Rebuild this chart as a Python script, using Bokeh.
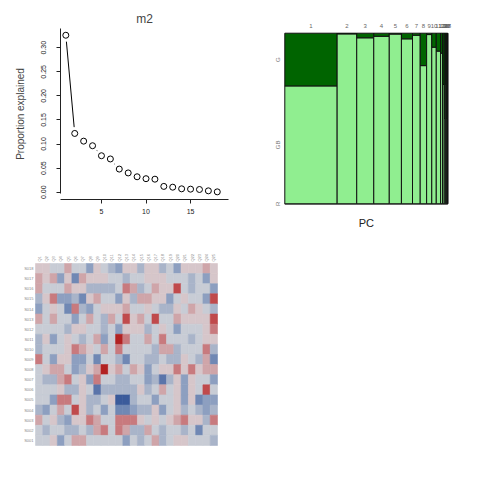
import numpy as np
from bokeh.plotting import figure
from bokeh.models import Range1d, FixedTicker, NumeralTickFormatter, LinearColorMapper, ColumnDataSource
from bokeh.layouts import column, row
from bokeh.embed import file_html
from bokeh.resources import INLINE
from bokeh.transform import transform
from bokeh.core.properties import value

FONT = "Liberation Sans"

# ---------------- data ----------------
pc = list(range(1, 19))
prop_explained = [0.326, 0.122, 0.106, 0.0965, 0.0757, 0.069, 0.048, 0.040, 0.032,
                  0.028, 0.027, 0.012, 0.0104, 0.007, 0.0063, 0.0056, 0.0028, 0.0007]
y_ticks = [0.0, 0.05, 0.10, 0.15, 0.20, 0.25, 0.30]
x_ticks = [5, 10, 15]

mosaic_levels = ["G", "GB", "R"]
frac_G = [0.309, 0.004, 0.027, 0.018, 0.005, 0.033, 0.012, 0.19, 0.008,
          0.082, 0.105, 0.117, 0.3, 0.5, 0.3, 0.5, 0.5, 0.5]
frac_R = [0.0] * 18

heat_rows = ["S%03d" % n for n in range(18, 0, -1)]
heat_cols = ["Q%d" % (j + 1) for j in range(25)]
heat_values = [
    [.12,.12,0,0,.3,0,0,-.45,.12,0,-.25,-.45,.12,.12,-.25,.12,.12,-.25,0,-.45,.12,.12,.12,.3,.12],
    [.3,.12,.3,-.45,.12,-.6,.3,.12,.12,.12,0,0,-.25,0,0,.12,.12,.12,0,0,0,-.25,0,-.45,.12],
    [.3,0,0,0,.3,.12,.12,-.25,-.25,-.25,-.25,0,.5,.3,-.25,0,.3,.12,.12,.7,0,-.25,0,0,-.45],
    [-.25,.12,.5,-.45,-.45,-.25,-.6,.12,.3,0,0,-.45,.12,-.25,.3,.3,.12,.12,-.45,0,.12,0,0,-.45,.7],
    [-.45,0,.12,0,-.6,.5,-.25,-.45,0,.12,.12,.12,.3,0,0,.12,0,-.25,-.25,.12,0,.3,.12,0,-.25],
    [.3,0,.3,0,0,-.45,0,.3,0,-.25,.3,0,.7,.12,.3,0,.7,0,0,.3,.12,.12,.12,.12,.7],
    [0,0,0,0,-.25,.12,.12,0,0,-.25,0,-.45,.12,.12,.12,-.25,0,.12,0,-.45,0,0,0,.12,.5],
    [-.25,.12,-.45,0,.12,0,-.25,0,.3,-.45,0,.9,.5,0,0,.3,0,.5,0,0,0,-.25,0,.12,.12],
    [-.25,0,0,0,.12,.5,.3,.12,0,.3,0,.5,0,0,0,0,-.25,.3,.3,-.25,0,0,0,.5,-.25],
    [.5,0,-.45,.12,.12,-.45,-.45,0,-.6,0,0,-.25,-.6,0,0,-.25,-.25,0,-.25,-.25,.12,0,-.25,.3,-.6],
    [0,.12,.3,.3,0,-.45,-.25,.12,.3,.9,.12,.3,0,.3,.12,-.45,0,.12,.12,.5,.12,.5,.12,.3,.3],
    [0,-.25,-.25,.3,.5,0,.12,-.45,.5,0,0,-.25,-.25,0,0,-.45,-.25,-.75,-.25,.12,-.45,.12,0,0,-.45],
    [0,0,0,.12,-.25,-.25,.12,0,-.75,-.25,-.25,-.25,-.25,-.25,.12,-.25,0,.3,0,.12,-.45,.12,0,.7,0],
    [0,0,-.45,.5,.5,0,.12,-.25,-.25,0,.12,-.9,-.9,-.25,0,0,-.45,0,0,.12,-.45,.12,-.6,-.45,-.45],
    [-.25,-.45,0,.3,0,.7,.12,-.25,0,-.45,0,-.6,-.6,-.45,-.25,-.25,.12,-.45,0,.12,-.25,0,-.25,-.45,-.25],
    [.3,0,.12,-.25,-.45,.12,.12,.5,.3,0,0,.5,.5,.5,.12,0,.12,0,.12,.3,.5,.12,.12,-.25,.5],
    [0,-.25,0,0,-.25,-.25,0,-.25,.3,.5,0,.5,.3,-.25,-.25,.3,0,-.25,0,0,-.25,0,-.6,0,0],
    [0,0,.12,-.45,0,.3,.3,0,0,0,0,0,-.45,0,-.25,0,.3,-.25,0,.12,.12,0,0,0,-.25],
]

# ---------------- panel 1: scree ----------------
p1 = figure(width=240, height=240, output_backend="svg", toolbar_location=None,
            x_range=Range1d(0.402, 19.26), y_range=Range1d(-0.0152, 0.340),
            min_border_left=60, min_border_right=12, min_border_top=28, min_border_bottom=41)
p1.frame_align = False
p1.outline_line_color = None
p1.xgrid.visible = False
p1.ygrid.visible = False
p1.title.text = "m2"
p1.title.align = "center"
p1.title.text_font = FONT
p1.title.text_font_size = "12px"
p1.title.text_font_style = "normal"
p1.title.standoff = 5

p1.xaxis.ticker = FixedTicker(ticks=x_ticks)
p1.yaxis.ticker = FixedTicker(ticks=y_ticks)
p1.yaxis.formatter = NumeralTickFormatter(format="0.00")
p1.yaxis.bounds = (-0.0027, 0.340)
p1.yaxis.major_label_orientation = "vertical"
for ax in (p1.xaxis[0], p1.yaxis[0]):
    ax.major_tick_out = 4
    ax.major_tick_in = 0
    ax.minor_tick_out = 0
    ax.minor_tick_in = 0
    ax.major_label_text_font = FONT
    ax.major_label_text_font_size = "7px"
    ax.major_label_text_color = "#222222"
    ax.axis_line_color = "#222222"
    ax.major_tick_line_color = "#222222"
p1.xaxis.major_label_standoff = 5
p1.yaxis.major_label_standoff = 10
p1.yaxis.axis_label = "Proportion explained"
p1.yaxis.axis_label_text_font = FONT
p1.yaxis.axis_label_text_font_size = "10px"
p1.yaxis.axis_label_text_font_style = "normal"
p1.yaxis.axis_label_standoff = 13

src1 = ColumnDataSource(dict(pc=pc, prop=prop_explained))
p1.line("pc", "prop", source=src1, line_color="black", line_width=1)
p1.scatter("pc", "prop", source=src1, size=12, fill_color="white", line_color="white")
p1.scatter("pc", "prop", source=src1, size=6, fill_color="white", line_color="black", line_width=1)

# ---------------- panel 2: mosaic ----------------
p2 = figure(width=240, height=240, output_backend="svg", toolbar_location=None,
            x_range=Range1d(-0.2718, 1.2006), y_range=Range1d(-0.2151, 1.1917),
            x_axis_location=None, y_axis_location=None, min_border=0)
p2.frame_align = False
p2.outline_line_color = None
p2.xgrid.visible = False
p2.ygrid.visible = False

w = np.array(prop_explained) / np.sum(prop_explained)
right = np.cumsum(w)
left = right - w
g = np.array(frac_G)
r = np.array(frac_R)
ql, qr, qb, qt, qc = [], [], [], [], []
for i in range(len(pc)):
    segs = [(0.0, r[i], "#ffffff"), (r[i], 1 - g[i], "#90EE90"), (1 - g[i], 1.0, "#006400")]
    for b0, t0, c in segs:
        ql.append(left[i]); qr.append(right[i]); qb.append(b0); qt.append(t0); qc.append(c)
p2.quad(left=ql, right=qr, bottom=qb, top=qt, fill_color=qc, line_color="#111111", line_width=1)
p2.text(x=list((left + right) / 2), y=[1.0] * len(pc), text=[str(k) for k in pc],
        text_font_size="6px", text_color="#666666", text_align="center", text_baseline="middle",
        y_offset=-7, text_font=value(FONT))
ylab_y = [1 - g[0] / 2, (1 - g[0] + r[0]) / 2, r[0] / 2]
p2.text(x=[0.0] * 3, y=ylab_y, text=mosaic_levels, angle=np.pi / 2,
        text_font_size="6px", text_color="#777777", text_align="center", text_baseline="middle",
        x_offset=-7, text_font=value(FONT))
p2.text(x=[0.5], y=[0.0], text=["PC"], text_font_size="11px", text_color="#222222",
        text_align="center", text_baseline="middle", y_offset=19, text_font=value(FONT))

# ---------------- panel 3: heatmap ----------------
p3 = figure(width=240, height=240, output_backend="svg", toolbar_location=None,
            x_range=Range1d(-4.808, 28.16), y_range=Range1d(-3.462, 20.275),
            x_axis_location=None, y_axis_location=None, min_border=0)
p3.frame_align = False
p3.outline_line_color = None
p3.xgrid.visible = False
p3.ygrid.visible = False

anchor_v = [-0.9, -0.75, -0.6, -0.45, -0.25, 0.0, 0.12, 0.3, 0.5, 0.7, 0.9]
anchor_c = ["#3b5b9b", "#5a74aa", "#7088b4", "#8d9fc0", "#a9b4c9", "#c8ccd5",
            "#d6c6ca", "#cfa5a9", "#c87a7e", "#c04a4c", "#b22222"]
def hex2rgb(h):
    return [int(h[k:k + 2], 16) for k in (1, 3, 5)]
rgb = np.array([hex2rgb(c) for c in anchor_c], dtype=float)
vals = np.linspace(-0.9, 0.9, 181)
palette = []
for v in vals:
    cc = [int(round(np.interp(v, anchor_v, rgb[:, k]))) for k in range(3)]
    palette.append("#%02x%02x%02x" % tuple(cc))
mapper = LinearColorMapper(palette=palette, low=-0.9, high=0.9)

nr = len(heat_rows)
nc = len(heat_cols)
hx, hy, hv = [], [], []
for i in range(nr):
    for j in range(nc):
        hx.append(j + 0.5); hy.append(nr - 0.5 - i); hv.append(heat_values[i][j])
src3 = ColumnDataSource(dict(x=hx, y=hy, v=hv))
p3.rect("x", "y", width=1, height=1, source=src3, fill_color=transform("v", mapper),
        line_color=transform("v", mapper), line_width=0.6)
p3.text(x=[0.0] * nr, y=[nr - 0.5 - i for i in range(nr)], text=heat_rows,
        text_font_size="4px", text_color="#888888", text_align="right", text_baseline="middle",
        x_offset=-2, text_font=value(FONT))
p3.text(x=[j + 0.5 for j in range(nc)], y=[float(nr)] * nc, text=heat_cols, angle=np.pi / 2,
        text_font_size="4px", text_color="#888888", text_align="left", text_baseline="middle",
        y_offset=-2, text_font=value(FONT))

layout = column(row(p1, p2), row(p3))
open("out.html", "w").write(file_html(layout, INLINE))
